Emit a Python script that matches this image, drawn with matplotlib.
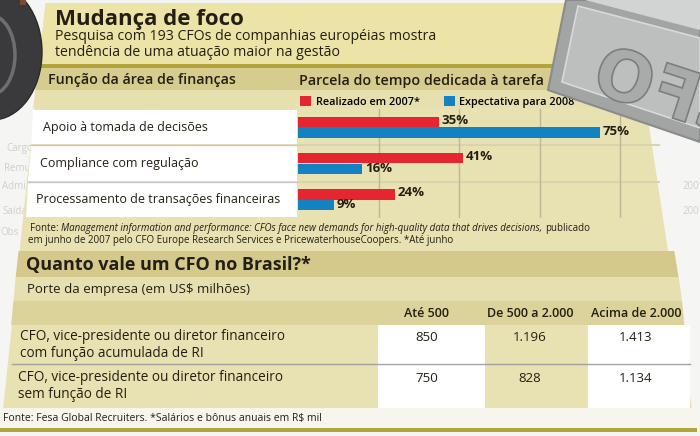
import matplotlib
matplotlib.use('Agg')
import matplotlib.pyplot as plt
from matplotlib.patches import Polygon, Rectangle, Ellipse, PathPatch
from matplotlib.textpath import TextPath
from matplotlib.font_manager import FontProperties
from matplotlib.transforms import Affine2D
import numpy as np

plt.rcParams['font.family'] = ['Open Sans', 'DejaVu Sans']

# --- dados ---
funcoes = ['Apoio à tomada de decisões',
           'Compliance com regulação',
           'Processamento de transações financeiras']
realizado_2007 = [35, 41, 24]
expectativa_2008 = [75, 16, 9]
series = ['Realizado em 2007*', 'Expectativa para 2008']

cargos = ['CFO, vice-presidente ou diretor financeiro\ncom função acumulada de RI',
          'CFO, vice-presidente ou diretor financeiro\nsem função de RI']
portes = ['Até 500', 'De 500 a 2.000', 'Acima de 2.000']
salarios = [['850', '1.196', '1.413'],
            ['750', '828', '1.134']]

W, H = 700, 436
TXT = '#231f14'
RED = '#e52630'
BLUE = '#1282c3'
PANEL = '#e8e1b2'
TITLE_BAND = '#ece4a6'
OLIVE = '#b2a43a'
HEAD = '#d6cc8e'


def left_x(y):
    return np.interp(y, [0, 110, 218, 253, 410, 436], [46, 33, 26, 18, 3, 0])


def right_x(y):
    return np.interp(y, [0, 110, 218, 253, 300, 410, 436], [630, 643, 663, 675, 682, 692, 700])


def band(ax, y0, y1, color, z=1):
    pts = [(left_x(y0), y0), (right_x(y0), y0), (right_x(y1), y1), (left_x(y1), y1)]
    ax.add_patch(Polygon(pts, closed=True, fc=color, ec='none', zorder=z))


def px_axes(x0, y0, x1, y1, **kw):
    return fig.add_axes([x0 / W, 1 - y1 / H, (x1 - x0) / W, (y1 - y0) / H], **kw)


fig = plt.figure(figsize=(7, 4.36), dpi=100)
fig.patch.set_facecolor('#f5f5f3')

bg = fig.add_axes([0, 0, 1, 1])
bg.set_xlim(0, W)
bg.set_ylim(H, 0)
bg.axis('off')

# fundo (formulario apagado)
for s, x, y in [('Cargo', 6, 148), ('Remu', 4, 168), ('Admi', 2, 186), ('Saída', 2, 211), ('Obs', 0, 232)]:
    bg.text(x, y, s, fontsize=7, color='#cfcfcf', va='center', zorder=0)
for y in [186, 211]:
    bg.text(683, y, '200', fontsize=7, color='#cfcfcf', va='center', zorder=0)
bg.text(523, 413, 'Assinatura do empregador', fontsize=7, color='#c8c8c8', va='center', zorder=0)

# papel
band(bg, 3, 408, PANEL)
band(bg, 3, 64, TITLE_BAND)
band(bg, 64, 68, OLIVE)
band(bg, 68, 90, HEAD)
band(bg, 90, 108, '#e6dfae')
band(bg, 251, 277, '#d4c98a')
band(bg, 277, 301, '#e6dfb0')
band(bg, 301, 325, '#dcd39b')
bg.add_patch(Rectangle((0, 408), 697, 20, fc='#f6f5ee', ec='none', zorder=1))
bg.add_patch(Rectangle((0, 428), 697, 4, fc=OLIVE, ec='none', zorder=1))

# celulas brancas dos rotulos
row_top, row_h = 109, (218 - 109) / 3
for i, nome in enumerate(funcoes):
    y0 = row_top + i * row_h + 1
    y1 = row_top + (i + 1) * row_h - 1
    bg.add_patch(Polygon([(left_x(y0), y0), (297, y0), (297, y1), (left_x(y1), y1)],
                         fc='white', ec='none', zorder=2))
    bg.text(43 - 3.5 * i, (y0 + y1) / 2, nome, fontsize=9, color=TXT, va='center', zorder=3)
    if i:
        bg.plot([left_x(y0 - 1), 297], [y0 - 1, y0 - 1], color='#c9c9c2', lw=1, zorder=2)

# titulos
bg.text(55, 19, 'Mudança de foco', fontsize=16, fontweight='bold', color=TXT, va='center', zorder=3)
bg.text(55, 37, 'Pesquisa com 193 CFOs de companhias européias mostra', fontsize=10.2,
        color=TXT, va='center', zorder=3)
bg.text(55, 52, 'tendência de uma atuação maior na gestão', fontsize=10.2, color=TXT,
        va='center', zorder=3)
bg.text(48, 80, 'Função da área de finanças', fontsize=10.3, fontweight='semibold',
        color=TXT, va='center', zorder=3)
bg.text(299, 81, 'Parcela do tempo dedicada à tarefa', fontsize=10.3, fontweight='semibold',
        color=TXT, va='center', zorder=3)

# fonte do grafico
renderer = fig.canvas.get_renderer()


def seq_text(x, y, parts, size):
    for s, st in parts:
        t = bg.text(x, y, s, fontsize=size, style=st, color=TXT, va='center', zorder=3)
        x += t.get_window_extent(renderer=renderer).width + 2.5


seq_text(30, 228, [('Fonte:', 'normal'),
                   ('Management information and performance: CFOs face new demands for '
                    'high-quality data that drives decisions,', 'italic'),
                   ('publicado', 'normal')], 7)
bg.text(28, 240, 'em junho de 2007 pelo CFO Europe Research Services e PricewaterhouseCoopers. '
        '*Até junho', fontsize=7, color=TXT, va='center', zorder=3)

# --- grafico de barras ---
ax = px_axes(298, 109, 660, 218)
ax.patch.set_alpha(0)
scale = (660 - 298) / 4.03
ax.set_xlim(0, scale)
ax.set_ylim(len(funcoes) - 0.5, -0.5)
y = np.arange(len(funcoes))
bh = 0.29
b1 = ax.barh(y - bh / 2, realizado_2007, height=bh, color=RED, label=series[0], zorder=3)
b2 = ax.barh(y + bh / 2, expectativa_2008, height=bh, color=BLUE, label=series[1], zorder=3)
for yy, v in zip(y, realizado_2007):
    ax.text(v + 0.6, yy - bh / 2 - 0.05, f'{v}%', fontsize=9.5, fontweight='bold',
            color=TXT, va='center', zorder=4)
for yy, v in zip(y, expectativa_2008):
    ax.text(v + 0.6, yy + bh / 2 - 0.02, f'{v}%', fontsize=9.5, fontweight='bold',
            color=TXT, va='center', zorder=4)
ax.set_xticks([20, 40, 60, 80])
ax.grid(axis='x', color='#bfb898', lw=1, zorder=1)
for yy in [0.5, 1.5]:
    ax.axhline(yy, color='#d9d3ae', lw=1.5, zorder=1)
ax.set_yticks([])
ax.tick_params(axis='x', length=0, labelbottom=False)
for sp in ax.spines.values():
    sp.set_visible(False)
ax.legend(handles=[b1, b2], loc='center left', bbox_to_anchor=(300 / W, 1 - 102 / H),
          bbox_transform=fig.transFigure, ncol=2, frameon=False,
          handlelength=1.05, handleheight=1.05, handletextpad=0.4, columnspacing=2.2,
          borderpad=0, borderaxespad=0,
          prop={'weight': 'semibold', 'size': 7.8})

# --- tabela ---
bg.text(26, 265, 'Quanto vale um CFO no Brasil?*', fontsize=13, fontweight='bold',
        color=TXT, va='center', zorder=3)
bg.text(27, 289, 'Porte da empresa (em US$ milhões)', fontsize=9.5, color=TXT,
        va='center', zorder=3)

col_x = [(378, 485), (485, 588), (588, 690)]
col_c = [427, 530, 636]
for j, p in enumerate(portes):
    if j != 1:
        bg.add_patch(Rectangle((col_x[j][0], 325), col_x[j][1] - col_x[j][0], 83,
                               fc='white', ec='none', zorder=2))
    bg.text(col_c[j], 313, p, fontsize=9, fontweight='semibold', color=TXT,
            ha='center', va='center', zorder=3)
bg.plot([12, 690], [364, 364], color='#a3a39e', lw=1, zorder=3)

row_y = [345, 386]
for i, c in enumerate(cargos):
    bg.text(20 - 2 * i, row_y[i], c, fontsize=9.8, color=TXT, va='center',
            linespacing=1.1, zorder=3)
    for j, v in enumerate(salarios[i]):
        bg.text(col_c[j], row_y[i] - 8, v, fontsize=9.5, color=TXT, ha='center',
                va='center', zorder=3)

bg.text(3, 418, 'Fonte: Fesa Global Recruiters. *Salários e bônus anuais em R$ mil',
        fontsize=7.5, color=TXT, va='center', zorder=3)

# --- decoracao: pneu e carimbo ---
top = fig.add_axes([0, 0, 1, 1])
top.set_xlim(0, W)
top.set_ylim(H, 0)
top.axis('off')
top.patch.set_alpha(0)
top.add_patch(Ellipse((-8, 52), 100, 136, fc='#3a3a3c', ec='#2a2a2b', lw=1))
top.add_patch(Ellipse((-10, 55), 50, 80, fc='none', ec='#6e6e70', lw=2.5))
top.add_patch(Rectangle((20, 0), 6, 5, fc='#7a4a2a', ec='none'))
top.add_patch(Polygon([(566, 0), (700, 0), (700, 142), (548, 90)], fc='#a3a5a5',
                      ec='#8a8c8c', lw=1.5))
top.add_patch(Polygon([(578, 6), (700, 38), (700, 128), (562, 82)], fc='#bdbfbf',
                      ec='#d9d9d9', lw=1.2))
top.add_patch(Polygon([(585, 0), (700, 0), (700, 30)], fc='#d2d4d4', ec='none'))
tp = TextPath((0, 0), 'CFO', size=70, prop=FontProperties(family='DejaVu Sans', weight='bold'))
tr = Affine2D().scale(-1, -1).rotate_deg(18).translate(740, 140)
top.add_patch(PathPatch(tr.transform_path(tp), fc='#a9abab', ec='#7c7e7e', lw=1.2))

fig.savefig('out.png', dpi=100, facecolor=fig.get_facecolor())
